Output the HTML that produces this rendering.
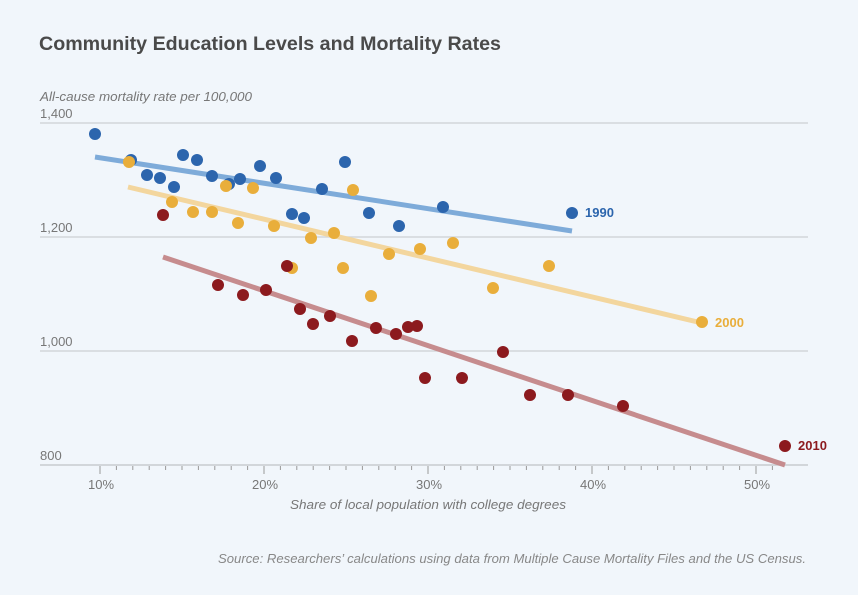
<!DOCTYPE html>
<html><head><meta charset="utf-8"><style>
html,body{margin:0;padding:0;background:#f1f6fb;}
svg{display:block;font-family:"Liberation Sans",sans-serif;}
</style></head><body>
<svg width="858" height="595" viewBox="0 0 858 595">
<rect width="858" height="595" fill="#f1f6fb"/>
<text x="39" y="50" font-size="19.5" font-weight="bold" fill="#4a4a4a" textLength="462" lengthAdjust="spacingAndGlyphs">Community Education Levels and Mortality Rates</text>
<text x="40" y="101" font-size="13" font-style="italic" fill="#777" textLength="212" lengthAdjust="spacingAndGlyphs">All-cause mortality rate per 100,000</text>
<g stroke="#d3d6da" stroke-width="1.5">
<line x1="40" y1="123" x2="808" y2="123"/>
<line x1="40" y1="237" x2="808" y2="237"/>
<line x1="40" y1="351" x2="808" y2="351"/>
<line x1="40" y1="465" x2="808" y2="465" stroke="#c8cbcf"/>
</g>
<g font-size="13" fill="#777">
<text x="40" y="118">1,400</text>
<text x="40" y="232">1,200</text>
<text x="40" y="346">1,000</text>
<text x="40" y="460">800</text>
</g>
<g stroke="#999" stroke-width="1">
<line x1="100" y1="466" x2="100" y2="474"/><line x1="264" y1="466" x2="264" y2="474"/><line x1="428" y1="466" x2="428" y2="474"/><line x1="592" y1="466" x2="592" y2="474"/><line x1="756" y1="466" x2="756" y2="474"/>
</g>
<g font-size="13" fill="#777" text-anchor="middle">
<text x="101" y="489">10%</text><text x="265" y="489">20%</text><text x="429" y="489">30%</text><text x="593" y="489">40%</text><text x="757" y="489">50%</text>
</g>
<text x="428" y="509" font-size="13.3" font-style="italic" fill="#777" text-anchor="middle" textLength="276" lengthAdjust="spacingAndGlyphs">Share of local population with college degrees</text>
<text x="806" y="563" font-size="13" font-style="italic" fill="#888" text-anchor="end" textLength="588" lengthAdjust="spacingAndGlyphs">Source: Researchers’ calculations using data from Multiple Cause Mortality Files and the US Census.</text>
<line x1="95" y1="157" x2="572" y2="231" stroke="#7eabd9" stroke-width="5"/>
<line x1="128" y1="187" x2="702" y2="323" stroke="#f3d69e" stroke-width="5"/>
<line x1="163" y1="257" x2="785" y2="465" stroke="#c68c8e" stroke-width="5"/>
<g fill="#2c65ad">
<circle cx="95" cy="134" r="6"/><circle cx="131" cy="160" r="6"/><circle cx="147" cy="175" r="6"/><circle cx="160" cy="178" r="6"/><circle cx="174" cy="187" r="6"/><circle cx="183" cy="155" r="6"/><circle cx="197" cy="160" r="6"/><circle cx="212" cy="176" r="6"/><circle cx="229" cy="184" r="6"/><circle cx="240" cy="179" r="6"/><circle cx="260" cy="166" r="6"/><circle cx="276" cy="178" r="6"/><circle cx="292" cy="214" r="6"/><circle cx="304" cy="218" r="6"/><circle cx="322" cy="189" r="6"/><circle cx="345" cy="162" r="6"/><circle cx="369" cy="213" r="6"/><circle cx="399" cy="226" r="6"/><circle cx="443" cy="207" r="6"/><circle cx="572" cy="213" r="6"/>
</g>
<g fill="#e9ae3b">
<circle cx="129" cy="162" r="6"/><circle cx="172" cy="202" r="6"/><circle cx="193" cy="212" r="6"/><circle cx="212" cy="212" r="6"/><circle cx="226" cy="186" r="6"/><circle cx="238" cy="223" r="6"/><circle cx="253" cy="188" r="6"/><circle cx="274" cy="226" r="6"/><circle cx="292" cy="268" r="6"/><circle cx="311" cy="238" r="6"/><circle cx="334" cy="233" r="6"/><circle cx="343" cy="268" r="6"/><circle cx="353" cy="190" r="6"/><circle cx="371" cy="296" r="6"/><circle cx="389" cy="254" r="6"/><circle cx="420" cy="249" r="6"/><circle cx="453" cy="243" r="6"/><circle cx="493" cy="288" r="6"/><circle cx="549" cy="266" r="6"/><circle cx="702" cy="322" r="6"/>
</g>
<g fill="#8c1a1e">
<circle cx="163" cy="215" r="6"/><circle cx="218" cy="285" r="6"/><circle cx="243" cy="295" r="6"/><circle cx="266" cy="290" r="6"/><circle cx="287" cy="266" r="6"/><circle cx="300" cy="309" r="6"/><circle cx="313" cy="324" r="6"/><circle cx="330" cy="316" r="6"/><circle cx="352" cy="341" r="6"/><circle cx="376" cy="328" r="6"/><circle cx="396" cy="334" r="6"/><circle cx="408" cy="327" r="6"/><circle cx="417" cy="326" r="6"/><circle cx="425" cy="378" r="6"/><circle cx="462" cy="378" r="6"/><circle cx="503" cy="352" r="6"/><circle cx="530" cy="395" r="6"/><circle cx="568" cy="395" r="6"/><circle cx="623" cy="406" r="6"/><circle cx="785" cy="446" r="6"/>
</g>
<text x="585" y="217" font-size="13" font-weight="bold" fill="#2c65ad">1990</text>
<text x="715" y="327" font-size="13" font-weight="bold" fill="#e9ae3b">2000</text>
<text x="798" y="450" font-size="13" font-weight="bold" fill="#8c1a1e">2010</text>
<g stroke="#999" stroke-width="1">
<line x1="116.4" y1="466" x2="116.4" y2="470"/><line x1="132.8" y1="466" x2="132.8" y2="470"/><line x1="149.2" y1="466" x2="149.2" y2="470"/><line x1="165.6" y1="466" x2="165.6" y2="470"/><line x1="182" y1="466" x2="182" y2="470"/><line x1="198.4" y1="466" x2="198.4" y2="470"/><line x1="214.8" y1="466" x2="214.8" y2="470"/><line x1="231.2" y1="466" x2="231.2" y2="470"/><line x1="247.6" y1="466" x2="247.6" y2="470"/>
<line x1="280.4" y1="466" x2="280.4" y2="470"/><line x1="296.8" y1="466" x2="296.8" y2="470"/><line x1="313.2" y1="466" x2="313.2" y2="470"/><line x1="329.6" y1="466" x2="329.6" y2="470"/><line x1="346" y1="466" x2="346" y2="470"/><line x1="362.4" y1="466" x2="362.4" y2="470"/><line x1="378.8" y1="466" x2="378.8" y2="470"/><line x1="395.2" y1="466" x2="395.2" y2="470"/><line x1="411.6" y1="466" x2="411.6" y2="470"/>
<line x1="444.4" y1="466" x2="444.4" y2="470"/><line x1="460.8" y1="466" x2="460.8" y2="470"/><line x1="477.2" y1="466" x2="477.2" y2="470"/><line x1="493.6" y1="466" x2="493.6" y2="470"/><line x1="510" y1="466" x2="510" y2="470"/><line x1="526.4" y1="466" x2="526.4" y2="470"/><line x1="542.8" y1="466" x2="542.8" y2="470"/><line x1="559.2" y1="466" x2="559.2" y2="470"/><line x1="575.6" y1="466" x2="575.6" y2="470"/>
<line x1="608.4" y1="466" x2="608.4" y2="470"/><line x1="624.8" y1="466" x2="624.8" y2="470"/><line x1="641.2" y1="466" x2="641.2" y2="470"/><line x1="657.6" y1="466" x2="657.6" y2="470"/><line x1="674" y1="466" x2="674" y2="470"/><line x1="690.4" y1="466" x2="690.4" y2="470"/><line x1="706.8" y1="466" x2="706.8" y2="470"/><line x1="723.2" y1="466" x2="723.2" y2="470"/><line x1="739.6" y1="466" x2="739.6" y2="470"/>
<line x1="772.4" y1="466" x2="772.4" y2="470"/>
</g>
</svg>
</body></html>
